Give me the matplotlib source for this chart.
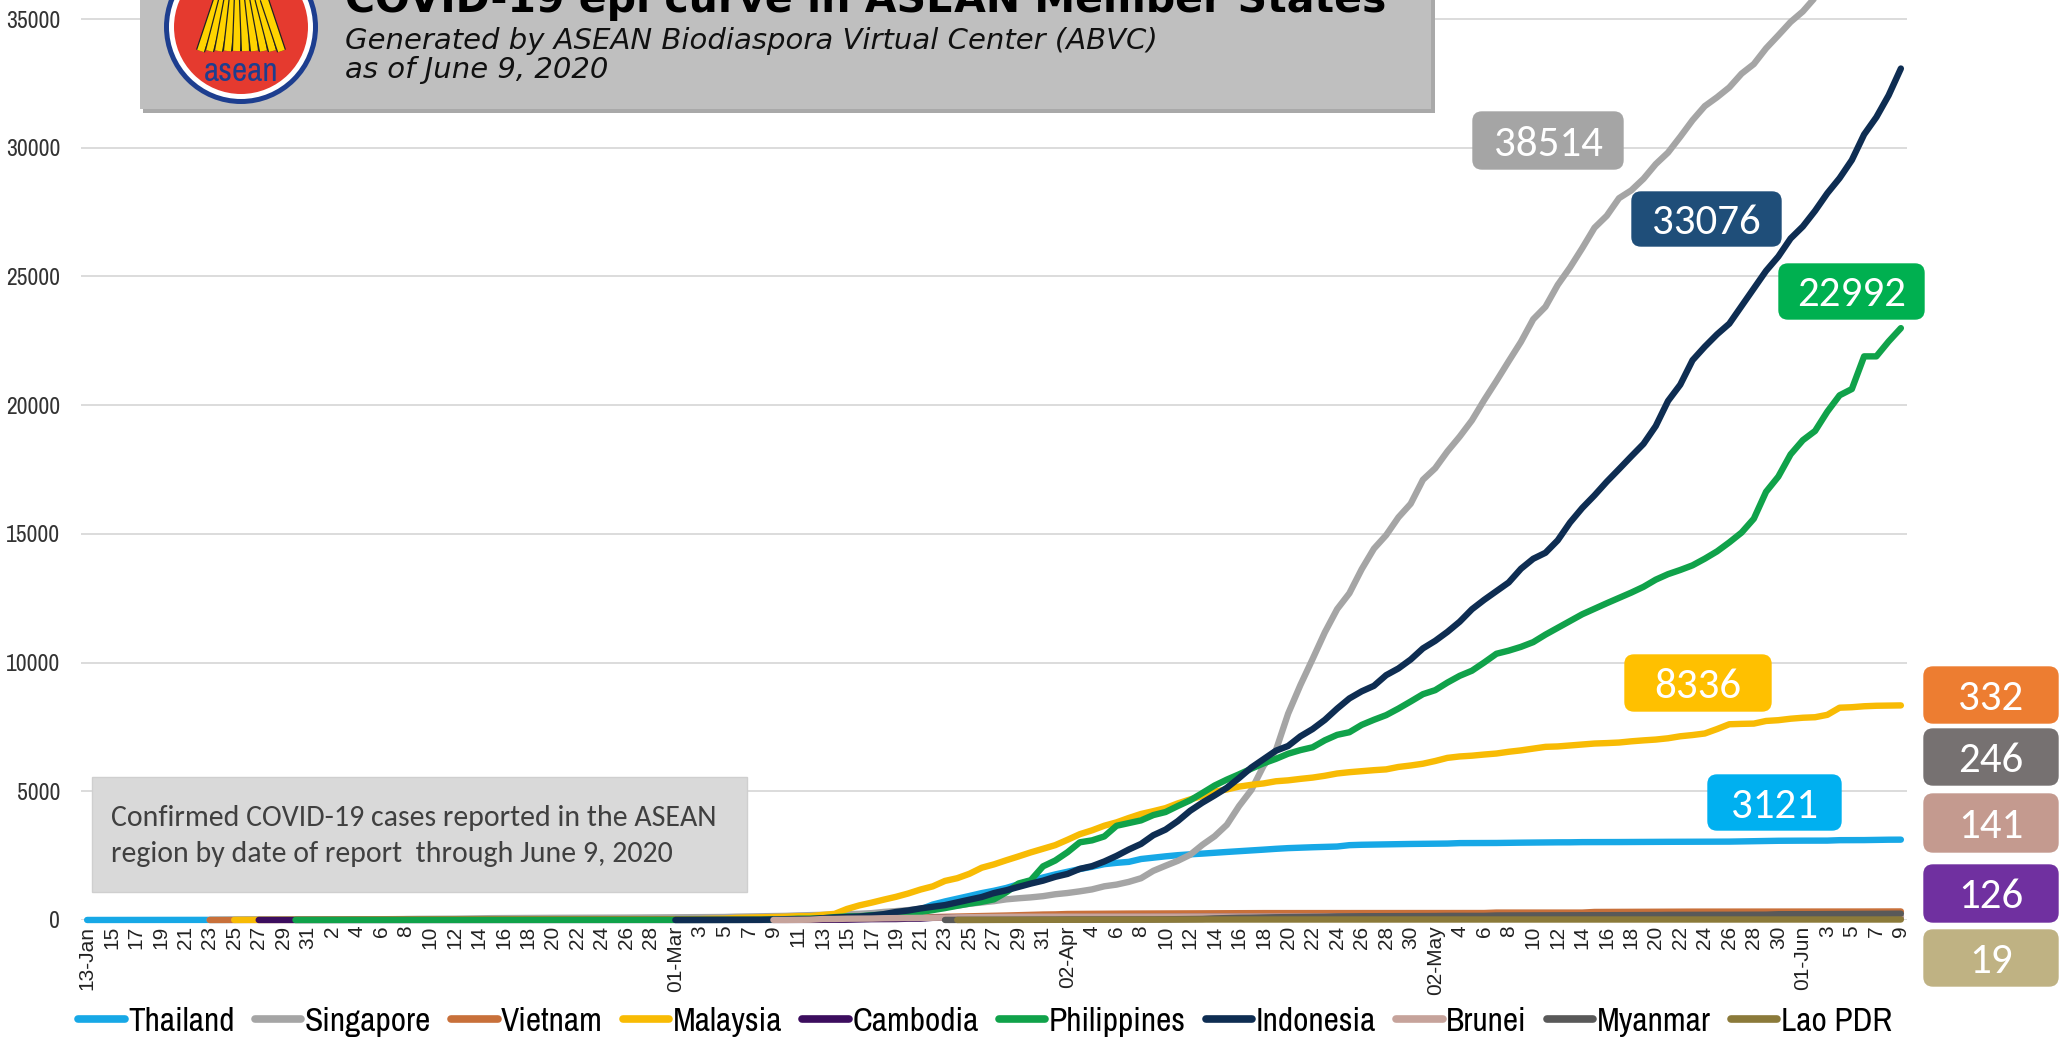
import numpy as np
import pandas as pd
import matplotlib.pyplot as plt
from matplotlib import font_manager
from matplotlib.lines import Line2D
from matplotlib.patches import FancyBboxPatch, Rectangle, Circle
from matplotlib.transforms import IdentityTransform

W, H = 2066, 1043

# ---- data: cumulative confirmed cases by date of report ----
dates = pd.date_range("2020-01-13", "2020-06-09")

thailand_start = "2020-01-13"
thailand = [1, 1, 1, 1, 2, 2, 2, 2, 2, 4, 4, 5, 7, 8, 8, 14, 14, 14, 19,
            19, 19, 19, 25, 25, 25, 25, 32, 32, 32, 33, 33, 33, 33, 34, 34, 35, 35, 35, 35, 35, 35, 35, 35, 37, 40, 40, 41, 42,
            42, 43, 43, 43, 47, 48, 50, 50, 50, 53, 59, 70, 75, 82, 114, 147, 177, 212, 272, 322, 411, 599, 721, 827, 934, 1045, 1136, 1245, 1388, 1524, 1651,
            1771, 1875, 1978, 2067, 2169, 2220, 2258, 2369, 2423, 2473, 2518, 2551, 2579, 2613, 2643, 2672, 2700, 2733, 2765, 2792, 2811, 2826, 2839, 2854, 2907, 2922, 2931, 2938, 2947, 2954,
            2960, 2966, 2969, 2987, 2988, 2989, 2992, 3000, 3004, 3009, 3015, 3017, 3018, 3025, 3025, 3025, 3028, 3031, 3033, 3034, 3037, 3037, 3040, 3042, 3042, 3045, 3054, 3065, 3076, 3077, 3081,
            3082, 3083, 3084, 3101, 3102, 3104, 3112, 3119, 3121]

singapore_start = "2020-01-23"
singapore = [1, 3, 3, 4, 5, 7, 10, 13, 16,
             18, 18, 18, 24, 28, 30, 33, 40, 43, 45, 47, 50, 58, 67, 72, 75, 77, 81, 84, 84, 85, 86, 89, 89, 91, 93, 96, 98, 102,
             106, 108, 110, 112, 117, 130, 138, 150, 150, 160, 178, 187, 200, 212, 226, 243, 266, 313, 345, 385, 432, 455, 509, 558, 631, 683, 732, 802, 844, 879, 926,
             1000, 1049, 1114, 1189, 1309, 1375, 1481, 1623, 1910, 2108, 2299, 2532, 2918, 3252, 3699, 4427, 5050, 5992, 6588, 8014, 9125, 10141, 11178, 12075, 12693, 13624, 14423, 14951, 15641, 16169,
             17101, 17548, 18205, 18778, 19410, 20198, 20939, 21707, 22460, 23336, 23822, 24671, 25346, 26098, 26891, 27356, 28038, 28343, 28794, 29364, 29812, 30426, 31068, 31616, 31960, 32343, 32876, 33249, 33860, 34366, 34884,
             35292, 35836, 36405, 36922, 37183, 37527, 37910, 38296, 38514]

vietnam_start = "2020-01-23"
vietnam = [2, 2, 2, 2, 2, 2, 2, 2, 5,
           6, 6, 8, 9, 10, 10, 12, 13, 14, 15, 15, 15, 16, 16, 16, 16, 16, 16, 16, 16, 16, 16, 16, 16, 16, 16, 16, 16, 16,
           16, 16, 16, 16, 16, 17, 18, 21, 30, 31, 38, 39, 47, 53, 57, 61, 66, 75, 85, 91, 94, 113, 123, 134, 141, 153, 163, 174, 188, 203, 212,
           218, 233, 237, 240, 241, 245, 249, 251, 255, 257, 258, 262, 265, 265, 267, 268, 268, 268, 268, 268, 268, 268, 268, 270, 270, 270, 270, 270, 270, 270,
           270, 270, 270, 270, 270, 271, 288, 288, 288, 288, 288, 288, 288, 288, 312, 314, 318, 320, 324, 324, 324, 324, 325, 325, 326, 327, 327, 327, 328, 328, 328,
           328, 328, 328, 328, 328, 329, 331, 331, 332]

malaysia_start = "2020-01-25"
malaysia = [3, 4, 4, 4, 7, 8, 8,
            8, 8, 8, 10, 12, 12, 14, 16, 16, 18, 18, 18, 19, 19, 22, 22, 22, 22, 22, 22, 22, 22, 22, 22, 22, 22, 23, 25, 25,
            29, 29, 36, 50, 55, 83, 93, 99, 117, 129, 149, 149, 197, 238, 428, 566, 673, 790, 900, 1030, 1183, 1306, 1518, 1624, 1796, 2031, 2161, 2320, 2470, 2626, 2766,
            2908, 3116, 3333, 3483, 3662, 3793, 3963, 4119, 4228, 4346, 4530, 4683, 4817, 4987, 5072, 5182, 5251, 5305, 5389, 5425, 5482, 5532, 5603, 5691, 5742, 5780, 5820, 5851, 5945, 6002,
            6071, 6176, 6298, 6353, 6383, 6428, 6467, 6535, 6589, 6656, 6726, 6742, 6779, 6819, 6855, 6872, 6894, 6941, 6978, 7009, 7059, 7137, 7185, 7245, 7417, 7604, 7619, 7629, 7732, 7762, 7819,
            7857, 7877, 7970, 8247, 8266, 8303, 8322, 8329, 8336]

cambodia_start = "2020-01-27"
cambodia = [1, 1, 1, 1, 1,
            1, 1, 1, 1, 1, 1, 1, 1, 1, 1, 1, 1, 1, 1, 1, 1, 1, 1, 1, 1, 1, 1, 1, 1, 1, 1, 1, 1, 1,
            1, 1, 1, 1, 1, 1, 2, 2, 3, 3, 3, 5, 7, 7, 12, 24, 33, 35, 37, 51, 53, 84, 87, 91, 96, 98, 99, 103, 103, 107, 109,
            109, 110, 114, 114, 114, 115, 117, 117, 119, 119, 120, 122, 122, 122, 122, 122, 122, 122, 122, 122, 122, 122, 122, 122, 122, 122, 122, 122, 122, 122,
            122, 122, 122, 122, 122, 122, 122, 122, 122, 122, 122, 122, 122, 122, 122, 122, 122, 122, 122, 122, 122, 124, 124, 124, 124, 124, 124, 124, 124, 124, 124,
            125, 125, 125, 125, 125, 125, 126, 126, 126]

philippines_start = "2020-01-30"
philippines = [1, 1,
               1, 2, 2, 2, 3, 3, 3, 3, 3, 3, 3, 3, 3, 3, 3, 3, 3, 3, 3, 3, 3, 3, 3, 3, 3, 3, 3, 3, 3,
               3, 3, 3, 3, 3, 5, 6, 10, 20, 33, 49, 52, 64, 111, 140, 142, 187, 202, 217, 230, 307, 380, 462, 552, 636, 707, 803, 1075, 1418, 1546, 2084,
               2311, 2633, 3018, 3094, 3246, 3660, 3764, 3870, 4076, 4195, 4428, 4648, 4932, 5223, 5453, 5660, 5878, 6087, 6259, 6459, 6599, 6710, 6981, 7192, 7294, 7579, 7777, 7958, 8212, 8488,
               8772, 8928, 9223, 9485, 9684, 10004, 10343, 10463, 10610, 10794, 11086, 11350, 11618, 11876, 12091, 12305, 12513, 12718, 12942, 13221, 13434, 13597, 13777, 14035, 14319, 14669, 15049, 15588, 16634, 17224, 18086,
               18638, 18997, 19748, 20382, 20626, 21895, 21895, 22474, 22992]

indonesia_start = "2020-03-01"
indonesia = [0, 2, 2, 2, 2, 4, 4, 6, 19, 27, 34, 34, 69, 96, 117, 134, 172, 227, 311, 369, 450, 514, 579, 686, 790, 893, 1046, 1155, 1285, 1414, 1528,
             1677, 1790, 1986, 2092, 2273, 2491, 2738, 2956, 3293, 3512, 3842, 4241, 4557, 4839, 5136, 5516, 5923, 6248, 6575, 6760, 7135, 7418, 7775, 8211, 8607, 8882, 9096, 9511, 9771, 10118,
             10551, 10843, 11192, 11587, 12071, 12438, 12776, 13112, 13645, 14032, 14265, 14749, 15438, 16006, 16496, 17025, 17514, 18010, 18496, 19189, 20162, 20796, 21745, 22271, 22750, 23165, 23851, 24538, 25216, 25773, 26473,
             26940, 27549, 28233, 28818, 29521, 30514, 31186, 32033, 33076]

brunei_start = "2020-03-09"
brunei = [1, 1, 6, 11, 37, 40, 50, 54, 56, 68, 75, 78, 83, 88, 91, 104, 109, 114, 115, 120, 126, 127, 129,
          131, 133, 134, 135, 135, 135, 135, 135, 135, 136, 136, 136, 136, 136, 136, 136, 136, 136, 137, 138, 138, 138, 138, 138, 138, 138, 138, 138, 138, 138,
          138, 138, 138, 138, 138, 138, 138, 139, 141, 141, 141, 141, 141, 141, 141, 141, 141, 141, 141, 141, 141, 141, 141, 141, 141, 141, 141, 141, 141, 141, 141,
          141, 141, 141, 141, 141, 141, 141, 141, 141]

myanmar_start = "2020-03-23"
myanmar = [2, 3, 3, 5, 8, 8, 10, 14, 15,
           15, 20, 20, 21, 21, 22, 22, 22, 23, 27, 28, 39, 41, 62, 74, 85, 88, 98, 107, 111, 119, 121, 127, 139, 144, 146, 146, 146, 150, 151,
           151, 155, 161, 161, 161, 161, 176, 177, 177, 178, 180, 180, 181, 182, 182, 182, 184, 187, 191, 193, 199, 199, 201, 201, 201, 203, 206, 206, 207, 224, 224,
           228, 228, 232, 233, 236, 236, 240, 244, 246]

lao_start = "2020-03-24"
lao = [2, 3, 6, 6, 8, 8, 9, 9,
       10, 10, 10, 10, 11, 12, 12, 15, 15, 16, 16, 19, 19, 19, 19, 19, 19, 19, 19, 19, 19, 19, 19, 19, 19, 19, 19, 19, 19, 19,
       19, 19, 19, 19, 19, 19, 19, 19, 19, 19, 19, 19, 19, 19, 19, 19, 19, 19, 19, 19, 19, 19, 19, 19, 19, 19, 19, 19, 19, 19, 19,
       19, 19, 19, 19, 19, 19, 19, 19, 19]

countries = ["Thailand", "Singapore", "Vietnam", "Malaysia", "Cambodia",
             "Philippines", "Indonesia", "Brunei", "Myanmar", "Lao PDR"]
colors = ["#17a8e6", "#a5a5a5", "#c8703a", "#f8bb04", "#3c0d5e",
          "#10a24a", "#0e2d52", "#c6a39b", "#595959", "#8b7a3a"]

xlabels = ["13-Jan", "15", "17", "19", "21", "23", "25", "27", "29", "31",
           "2", "4", "6", "8", "10", "12", "14", "16", "18", "20", "22", "24", "26", "28",
           "01-Mar", "3", "5", "7", "9", "11", "13", "15", "17", "19", "21", "23", "25", "27", "29", "31",
           "02-Apr", "4", "6", "8", "10", "12", "14", "16", "18", "20", "22", "24", "26", "28", "30",
           "02-May", "4", "6", "8", "10", "12", "14", "16", "18", "20", "22", "24", "26", "28", "30",
           "01-Jun", "3", "5", "7", "9"]


def on_dates(start, values):
    idx = pd.date_range(start, periods=len(values))
    return pd.Series(values, index=idx, dtype=float).reindex(dates)


df = pd.DataFrame({
    "Thailand": on_dates(thailand_start, thailand),
    "Singapore": on_dates(singapore_start, singapore),
    "Vietnam": on_dates(vietnam_start, vietnam),
    "Malaysia": on_dates(malaysia_start, malaysia),
    "Cambodia": on_dates(cambodia_start, cambodia),
    "Philippines": on_dates(philippines_start, philippines),
    "Indonesia": on_dates(indonesia_start, indonesia),
    "Brunei": on_dates(brunei_start, brunei),
    "Myanmar": on_dates(myanmar_start, myanmar),
    "Lao PDR": on_dates(lao_start, lao),
})

# ---- fonts ----
installed = {f.name for f in font_manager.fontManager.ttflist}


def pick(*cands):
    for c in cands:
        if c in installed:
            return c
    return "DejaVu Sans"


narrow = pick("Archivo Narrow", "Roboto Condensed", "PT Sans Narrow", "Liberation Sans")
calib = pick("Carlito", "Lato", "Open Sans")
arial = pick("Arimo", "Liberation Sans")


def fx(x):
    return x / W


def fy(y):
    return 1 - y / H


fig = plt.figure(figsize=(W / 100, H / 100), dpi=100)

# main axes: 0 at y=920px, 35000 at y=19px, categories 87..1901px
ax = fig.add_axes([fx(81), fy(920), (1907 - 81) / W, 920 / H])
x = np.arange(len(dates))
for name, col in zip(countries, colors):
    ax.plot(x, df[name].values, color=col, lw=4.6, solid_capstyle="round",
            solid_joinstyle="round", clip_on=False, zorder=3)

ax.set_xlim(-0.5, len(dates) - 0.5)
ax.set_ylim(0, 35000 + 19 * 35000 / 901)
ax.set_yticks(np.arange(0, 35001, 5000))
ax.grid(axis="y", color="#d9d9d9", lw=1.3, zorder=0)
ax.set_axisbelow(True)
for s in ax.spines.values():
    s.set_visible(False)
ax.set_xticks(np.arange(0, len(dates), 2))
ax.set_xticklabels(xlabels, rotation=90, fontsize=15, color="#222222", family=arial)
ax.tick_params(axis="x", length=0, pad=4)
ax.tick_params(axis="y", length=0, pad=15, labelsize=17, labelcolor="#333333")
for lab in ax.get_yticklabels():
    lab.set_fontfamily(narrow)

# ---- title banner ----
fig.add_artist(Rectangle((fx(143), fy(113)), (1435 - 143) / W, 113 / H,
                         transform=fig.transFigure, fc="#a9a9a9", ec="none", zorder=1))
fig.add_artist(Rectangle((fx(140), fy(109)), (1431 - 140) / W, 109 / H,
                         transform=fig.transFigure, fc="#bfbfbf", ec="none", zorder=1))
fig.text(fx(345), fy(12), "COVID-19 epi curve in ASEAN Member States", fontsize=29.5,
         weight="bold", color="black", va="baseline", ha="left", zorder=4)
fig.text(fx(345), fy(41), "Generated by ASEAN Biodiaspora Virtual Center (ABVC)", fontsize=21,
         style="italic", color="#111111", va="center", ha="left", zorder=4)
fig.text(fx(345), fy(70), "as of June 9, 2020", fontsize=21,
         style="italic", color="#111111", va="center", ha="left", zorder=4)

# ASEAN emblem
lax = fig.add_axes([fx(241 - 90), fy(27 + 90), 180 / W, 180 / H])
lax.set_zorder(5)
lax.set_xlim(-90, 90)
lax.set_ylim(-90, 90)
lax.axis("off")
lax.add_patch(Circle((0, 0), 77, fc="#1d3e8f", ec="none"))
lax.add_patch(Circle((0, 0), 72, fc="white", ec="none"))
lax.add_patch(Circle((0, 0), 67, fc="#e53a2f", ec="none"))
for i in range(10):
    o = i - 4.5
    xs = [o * 9.0, o * 5.0, o * 9.0]
    ys = [90, 30, -24]
    lax.plot(xs, ys, color="#222222", lw=6.8, solid_capstyle="butt")
    lax.plot(xs, ys, color="#ffd400", lw=5.0, solid_capstyle="butt")
lax.text(0, -45, "asean", ha="center", va="center", fontsize=24, weight="bold",
         color="#1d3e8f", family=narrow)

# ---- note box ----
fig.add_artist(Rectangle((fx(92), fy(892)), (747 - 92) / W, (892 - 777) / H,
                         transform=fig.transFigure, fc="#d9d9d9", ec="#cfcfcf", lw=1, zorder=1))
fig.text(fx(111), fy(818), "Confirmed COVID-19 cases reported in the ASEAN", fontsize=21.5,
         color="#404040", va="center", ha="left", family=calib, zorder=4)
fig.text(fx(111), fy(854), "region by date of report  through June 9, 2020", fontsize=21.5,
         color="#404040", va="center", ha="left", family=calib, zorder=4)

# ---- end-value boxes ----
boxes = {
    "Singapore": (1473, 112, 1623, 169, "#a5a5a5"),
    "Indonesia": (1632, 192, 1781, 246, "#1f4e79"),
    "Philippines": (1779, 264, 1924, 319, "#00b050"),
    "Malaysia": (1625, 655, 1771, 711, "#ffc000"),
    "Thailand": (1708, 775, 1841, 830, "#00b0f0"),
    "Vietnam": (1924, 667, 2058, 723, "#ed7d31"),
    "Myanmar": (1924, 729, 2058, 785, "#767171"),
    "Brunei": (1924, 794, 2058, 852, "#c49a8f"),
    "Cambodia": (1924, 865, 2058, 922, "#7030a0"),
    "Lao PDR": (1924, 930, 2058, 986, "#bfb283"),
}
for name, (x0, y0, x1, y1, col) in boxes.items():
    p = FancyBboxPatch((x0, H - y1), x1 - x0, y1 - y0,
                       boxstyle="round,pad=0,rounding_size=9",
                       fc=col, ec=col, lw=1,
                       transform=IdentityTransform(), zorder=6)
    fig.add_artist(p)
    last = int(df[name].dropna().iloc[-1])
    fig.text(fx((x0 + x1) / 2), fy((y0 + y1) / 2), str(last), ha="center",
             va="center_baseline", color="white", fontsize=31, family=calib, zorder=7)

# ---- legend ----
handles = [Line2D([], [], color=c, lw=5.5, solid_capstyle="round") for c in colors]
fig.legend(handles, countries, loc="center", bbox_to_anchor=(fx(985), fy(1022)),
           ncol=10, frameon=False, handlelength=1.4, handletextpad=0.1,
           columnspacing=0.6, borderaxespad=0, borderpad=0,
           prop={"family": narrow, "size": 24})

fig.savefig("out.png", dpi=100)
